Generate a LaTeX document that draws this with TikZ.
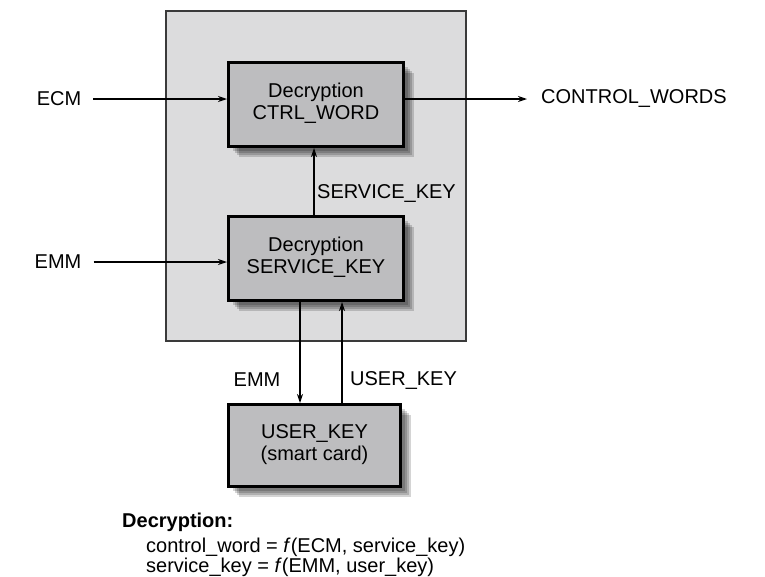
\documentclass[tikz,border=0pt]{standalone}
\usepackage{fontspec}
\setmainfont{Liberation Sans}
\usetikzlibrary{arrows.meta,shadows}
\definecolor{outergray}{HTML}{DCDCDD}
\definecolor{boxgray}{HTML}{BDBDBF}
\definecolor{framegray}{HTML}{3A3A3A}
\newcommand{\twolns}[2]{\raisebox{-3pt}{\begin{tabular}{@{}c@{}}#1\\#2\end{tabular}}}
\tikzset{
  lay/.style={general shadow={shadow xshift=#1pt, shadow yshift=-#1pt, fill=black, opacity=0.17}},
  procbox/.style={draw=black, line width=3pt, fill=boxgray,
    minimum width=175pt, minimum height=84pt, inner sep=0pt,
    lay=10, lay=8, lay=6, lay=4},
  lbl/.style={inner sep=0pt},
  conn/.style={line width=1.2pt, -{Stealth[length=9pt,width=6pt]}},
}
\begin{document}
\begin{tikzpicture}[x=1pt,y=-1pt,font=\fontsize{20}{22}\selectfont]
\useasboundingbox (0,0) rectangle (765,576);
% outer frame
\draw[framegray, line width=1.5pt, fill=outergray] (166,11) rectangle (466,341);
% boxes
\node[procbox] (b1) at (316,104.5) {\twolns{Decryption}{CTRL\_WORD}};
\node[procbox] (b2) at (316,258.5) {\twolns{Decryption}{SERVICE\_KEY}};
\node[procbox, minimum width=172pt, minimum height=82pt] (uk) at (314.5,445.5) {\twolns{USER\_KEY}{(smart card)}};
% labels
\node[lbl] (ecm) at (59,99) {ECM};
\node[lbl] (emm) at (58,262) {EMM};
\node[lbl, anchor=west] (cw) at (541,99) {CONTROL\_WORDS};
\node[lbl, anchor=west] (sk) at (317,193) {SERVICE\_KEY};
\node[lbl] (emm2) at (257,380) {EMM};
\node[lbl, anchor=west] (ukl) at (350,380) {USER\_KEY};
\node[lbl, anchor=west] (dec) at (122,522) {\bfseries Decryption:};
\node[lbl, anchor=north west, align=left, font=\fontsize{20}{20}\selectfont] (eqs) at (146,538)
  {control\_word = \textit{f}(ECM, service\_key)\\service\_key = \textit{f}(EMM, user\_key)};
% connectors
\draw[conn] ([xshift=12pt]ecm.east) -- (ecm -| b1.west);
\draw[conn] ([xshift=12pt]emm.east) -- (emm -| b2.west);
\draw[conn] (cw -| b1.east) -- ([xshift=-14pt]cw.west);
\draw[conn] ([xshift=-2pt]b2.north) -- ([xshift=-2pt]b1.south);
\draw[conn] ([xshift=-16pt]b2.south) -- ([xshift=-14.5pt]uk.north);
\draw[conn] ([xshift=27.5pt]uk.north) -- ([xshift=26pt]b2.south);
\end{tikzpicture}
\end{document}
